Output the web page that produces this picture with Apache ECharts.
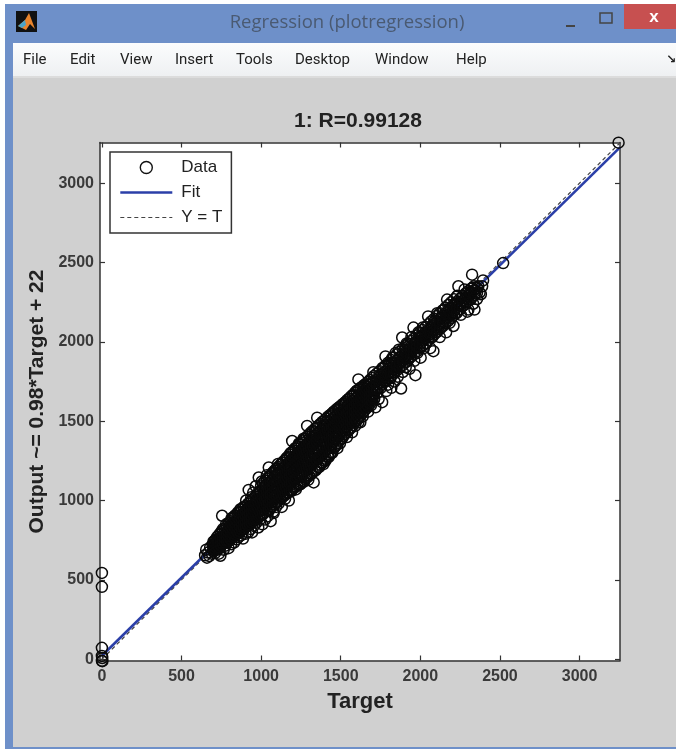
<!DOCTYPE html>
<html><head><meta charset="utf-8">
<style>html,body{margin:0;padding:0;background:#fff}#c{width:676px;height:749px}</style>
<script src="https://cdn.jsdelivr.net/npm/echarts@6/dist/echarts.min.js"></script>
</head><body><div id="c"></div>
<script>
const xTicks = [0,500,1000,1500,2000,2500,3000];
const yTicks = [0,500,1000,1500,2000,2500,3000];
const fitTargets = [0,3254];
const fitOutputs = [22,3225];
const identity = [0,3254];
const menuNames = ['File','Edit','View','Insert','Tools','Desktop','Window','Help'];
const originPoints = [0,544, 0,456, 0,72, 0,21, 0,-10, 3,-12, 2,8];
const tailPoints = [2520,2496, 3245,3255, 2394,2387, 2388,2350, 2325,2423];
const band650 = [648,655,655,690,660,640,668,672,675,650,680,705,690,665,695,720,702,690,708,745,712,670,718,715,725,690,730,760,735,665,742,700,748,790,755,735,760,820,765,690,770,760,775,715,780,850,755,904,744,652,785,735,790,800,
795,700,798,860,803,760,808,820,812,725,816,890,820,780,825,840,830,735,834,905,838,790,842,860,846,755,850,820,854,925,858,770,862,880,866,800,870,945,874,780,878,840,882,905];
const band900 = [886,760,890,960,894,820,898,880,902,790,906,1000,910,850,914,930,918,800,922,1067,926,870,930,960,934,820,938,1020,943,799,946,890,950,1050,954,840,958,970,962,900,966,1090,970,860,974,1010,978,930,982,830,985,1145,988,960,992,880,996,1060,1000,910,1004,1120,1008,850,1012,1000,1016,940,1020,1090,1024,880,1028,1040,1032,970,1036,1160,1040,900,1044,1010,1048,1208,1052,940,1056,1110,1060,870,1064,1060,1068,990,1072,1170,1076,930,1079,921,1082,1080,1086,1010,1090,1190,1094,960,1098,1130,1102,1040,1106,1230,1110,980];
const band1100 = [1114,1100,1118,1020,1122,1200,1126,1070,1130,960,1134,1150,1138,1240,1142,1040,1146,1120,1150,1010,1154,1190,1158,1090,1162,1270,1166,1050,1170,1160,1174,1000,1178,1230,1182,1110,1186,1300,1190,1060,1195,1375,1198,1180,1202,1090,1206,1260,1210,1140,1214,1330,1218,1070,1222,1210,1226,1110,1230,1290,1234,1170,1238,1360,1242,1100,1247,1103,1250,1240,1254,1150,1258,1320,1262,1190,1266,1390,1270,1120,1274,1270,1278,1210,1282,1340,1286,1160,1289,1470,1292,1250,1296,1130,1300,1310,1304,1200,1308,1400,1312,1270,1316,1170,1320,1350,1324,1230,1330,1114,1334,1290,1338,1430,1342,1190,1346,1330,1352,1522];
const band1350 = [1356,1260,1360,1390,1364,1210,1368,1320,1372,1440,1376,1240,1380,1370,1384,1290,1388,1470,1392,1230,1396,1400,1400,1310,1404,1250,1408,1450,1412,1350,1416,1500,1420,1290,1423,1273,1427,1390,1431,1460,1435,1330,1439,1530,1443,1410,1447,1300,1451,1470,1455,1370,1459,1550,1463,1340,1467,1430,1471,1510,1475,1390,1479,1330,1483,1480,1487,1570,1491,1420,1495,1360,1499,1520];
const band1500 = [1503,1450,1507,1390,1511,1550,1515,1480,1519,1600,1523,1420,1527,1520,1531,1620,1535,1460,1539,1400,1543,1570,1547,1500,1551,1640,1555,1450,1559,1540,1563,1600,1567,1490,1571,1430,1575,1580,1579,1660,1583,1520,1587,1620,1591,1470,1595,1570,1600,1690,1605,1510,1611,1763,1611,1493,1616,1620,1620,1560,1623,1493,1628,1660,1633,1590,1638,1530,1643,1710,1648,1620,1655,1587,1660,1680,1665,1610,1672,1560,1678,1730,1684,1650];
const band1700 = [1690,1600,1697,1700,1705,1809,1710,1640,1718,1587,1724,1750,1730,1680,1738,1640,1745,1790,1752,1710,1760,1620,1768,1830,1775,1750,1781,1908,1786,1690,1792,1800,1798,1730,1805,1860,1812,1770,1818,1710,1825,1900,1832,1810,1838,1750,1845,1930,1852,1840,1858,1780,1865,1950,1870,1870,1879,1706,1886,2027,1890,1810,1896,1900,1902,1950,1908,1840,1914,1990,1920,1880,1926,1950,1932,1830];
const band1950 = [1938,1910,1944,2030,1950,1960,1957,2090,1962,1880,1969,1790,1975,2000,1982,1930,1988,2060,1995,1970,2002,1900,2008,2030,2015,2090,2022,1960,2030,2040,2036,1990,2049,2160,2055,2030,2062,1960,2070,2090,2076,2030,2082,1941,2090,2130,2098,2060,2106,2180,2114,2090,2122,2030,2130,2150,2138,2100,2146,2200,2154,2120,2162,2060,2168,2266,2176,2170];
const band2180 = [2184,2120,2192,2210,2200,2160,2208,2100,2216,2240,2224,2180,2232,2290,2239,2350,2246,2230,2254,2170,2262,2280,2270,2230,2278,2330,2286,2250,2295,2190,2302,2203,2310,2310,2318,2270,2326,2340,2332,2240,2340,2203,2348,2320,2356,2270,2364,2350,2372,2310,2380,2300];
// dense rows read from the solid black part of the cloud: target, then outputs
const coreLow = [[700,680,700,722,740],[712,690,708,730,752],[724,700,722,745,770],[736,705,728,750,785],[748,715,738,765,800],[760,725,750,772,810],[772,735,758,785,822],[784,745,770,795,835],[796,745,775,800,825,855],[808,755,785,812,838,870],[820,770,795,822,850,885],[832,775,805,832,862,895],[844,785,815,845,875,905],[856,795,825,855,888,920],[868,805,838,868,898,930],[880,815,845,880,910,945],[892,825,858,890,920,955],[904,835,865,898,932,965],[916,845,878,910,942,978],[928,850,885,920,955,990],[940,860,895,930,965,1000],[952,870,905,940,975,1015],[964,880,918,952,985,1025],[976,885,925,960,1000,1040],[988,900,935,972,1010,1050]];
const coreMid = [[1000,905,945,985,1020,1060,1095],[1012,915,955,995,1030,1070,1110],[1024,925,968,1008,1042,1082,1125],[1036,935,975,1018,1055,1095,1135],[1048,945,988,1030,1068,1108,1150],[1060,955,998,1040,1080,1120,1160],[1072,965,1010,1052,1092,1132,1175],[1084,975,1018,1062,1105,1145,1188],[1096,985,1030,1075,1115,1158,1200],[1108,998,1040,1085,1128,1170,1212],[1120,1010,1052,1098,1140,1182,1225],[1132,1020,1065,1108,1152,1195,1238],[1144,1030,1075,1120,1165,1208,1250],[1156,1040,1085,1132,1178,1220,1262],[1168,1050,1098,1145,1188,1232,1275],[1180,1060,1108,1155,1200,1245,1290],[1192,1068,1120,1168,1212,1258,1302],[1204,1078,1130,1178,1225,1270,1315],[1216,1085,1138,1190,1238,1282,1328],[1228,1095,1148,1200,1250,1295,1340],[1240,1105,1160,1212,1262,1308,1352],[1252,1115,1170,1222,1275,1320,1365],[1264,1125,1180,1235,1285,1332,1378],[1276,1135,1192,1245,1298,1345,1390],[1288,1145,1202,1258,1310,1358,1402],[1300,1155,1212,1268,1322,1370,1415],[1312,1165,1225,1280,1335,1382,1428],[1324,1178,1235,1292,1345,1395,1438],[1336,1188,1245,1302,1358,1405,1450],[1348,1200,1258,1315,1370,1418,1460],[1360,1212,1268,1325,1382,1430,1472],[1372,1225,1280,1338,1392,1440,1482],[1384,1238,1292,1348,1405,1452,1495],[1396,1250,1305,1360,1415,1465,1505],[1408,1262,1318,1372,1428,1475,1515],[1420,1275,1330,1385,1438,1488,1528],[1432,1290,1342,1395,1450,1498,1538],[1444,1305,1355,1408,1460,1510,1548]];
const coreHigh = [[1456,1330,1378,1425,1472,1520,1560],[1468,1345,1390,1438,1485,1530,1570],[1480,1360,1402,1450,1495,1540,1580],[1492,1378,1418,1462,1508,1552,1590],[1504,1392,1432,1475,1518,1562,1600],[1516,1405,1445,1488,1530,1572,1610],[1528,1420,1458,1500,1542,1582,1620],[1540,1432,1470,1512,1552,1595,1632],[1552,1445,1485,1525,1565,1605,1642],[1564,1460,1498,1538,1578,1618,1655],[1576,1475,1510,1550,1590,1628,1665],[1588,1490,1525,1562,1600,1640,1678],[1600,1505,1538,1575,1612,1650,1690],[1612,1520,1552,1588,1625,1662,1700],[1624,1535,1565,1600,1635,1672,1710],[1636,1550,1580,1612,1648,1685,1718],[1648,1565,1592,1625,1660,1695,1728],[1660,1580,1606,1638,1672,1705,1738],[1672,1595,1620,1650,1682,1715,1748],[1684,1610,1635,1662,1695,1728,1760],[1696,1625,1650,1675,1705,1738,1772],[1708,1640,1665,1690,1718,1750,1785]];
const coreTop = [[1726,1700,1730,1762,1800],[1744,1715,1745,1778,1815],[1762,1735,1762,1795,1835],[1780,1750,1780,1812,1850],[1798,1768,1798,1830,1868],[1816,1785,1815,1848,1885],[1834,1800,1832,1865,1902],[1852,1820,1850,1882,1920],[1870,1838,1868,1900,1938],[1888,1852,1885,1918,1955],[1906,1870,1902,1935,1972],[1924,1888,1920,1952,1990],[1942,1905,1938,1970,2005],[1960,1922,1955,1988,2022],[1978,1940,1972,2005,2040],[1996,1958,1990,2022,2058],[2014,1975,2008,2040,2075],[2032,1992,2025,2058,2092],[2050,2010,2042,2075,2110],[2068,2028,2060,2092,2128],[2086,2045,2078,2110,2145],[2104,2062,2095,2128,2162],[2122,2080,2112,2145,2180],[2140,2098,2130,2162,2198],[2158,2115,2148,2180,2215],[2176,2132,2165,2198,2232],[2194,2150,2182,2215,2250],[2212,2168,2200,2232,2268],[2230,2185,2218,2250,2285],[2248,2205,2238,2270],[2266,2225,2258,2288],[2284,2240,2275,2305],[2302,2258,2290,2320],[2320,2278,2310,2335],[2338,2295,2325,2350],[2356,2310,2340]];
const bands = [originPoints,band650,band900,band1100,band1350,band1500,band1700,band1950,band2180,tailPoints];
const rowBlocks = [coreLow,coreMid,coreHigh,coreTop];
const pairs = [];
bands.forEach(b=>{for(let i=0;i<b.length;i+=2)pairs.push([b[i],b[i+1]]);});
rowBlocks.forEach(block=>block.forEach(r=>r.slice(1).forEach(o=>pairs.push([r[0],o]))));
const chart = echarts.init(document.getElementById('c'),null,{renderer:'canvas'});
const txtCol='#3a3a3a';
const g = [];
g.push({type:'rect',z:-10,shape:{x:5,y:4,width:671,height:745},style:{fill:'#6e90c9'}});
g.push({type:'rect',z:-9,shape:{x:13,y:43,width:663,height:704},style:{fill:'#d0d0d0'}});
g.push({type:'rect',z:-8,shape:{x:13,y:43,width:663,height:34},style:{fill:new echarts.graphic.LinearGradient(0,0,0,1,[{offset:0,color:'#fbfcfd'},{offset:1,color:'#eef0f2'}])}});
g.push({type:'rect',z:-8,shape:{x:13,y:76,width:663,height:2},style:{fill:'#dcdcdc'}});
g.push({type:'rect',z:-8,shape:{x:624,y:4,width:52,height:25},style:{fill:'#c75050'}});
g.push({type:'rect',z:-7,shape:{x:16,y:11,width:21,height:21},style:{fill:'#111'}});
g.push({type:'polygon',z:-6,shape:{points:[[18,26],[25,20],[29,13],[35,29],[30,24],[26,30]]},style:{fill:'#e8842c'}});
g.push({type:'polygon',z:-6,shape:{points:[[18,26],[25,20],[26,25],[22,28]]},style:{fill:'#4aa3c8'}});
g.push({type:'text',z:-5,style:{x:347,y:23,text:'Regression (plotregression)',font:'18.5px "Open Sans"',fill:'#4a5a72',align:'center',verticalAlign:'middle'}});
g.push({type:'rect',z:-5,shape:{x:566,y:25,width:9,height:2},style:{fill:'#444'}});
g.push({type:'rect',z:-5,shape:{x:600,y:13,width:12,height:10},style:{fill:'none',stroke:'#444',lineWidth:1.5}});
g.push({type:'text',z:-5,style:{x:654,y:17,text:'x',font:'bold 17px "Liberation Sans"',fill:'#fff',align:'center',verticalAlign:'middle'}});
const menuX=[23,70,120,175,236,295,375,456];
menuNames.forEach((m,i)=>g.push({type:'text',z:-5,style:{x:menuX[i],y:60,text:m,font:'15px Roboto',fill:'#222',verticalAlign:'middle'}}));
g.push({type:'text',z:-5,style:{x:666,y:60,text:'↘',font:'bold 12px "DejaVu Sans"',fill:'#222',verticalAlign:'middle'}});
const labelStyle={color:txtCol,fontFamily:'Liberation Sans',fontSize:16,fontWeight:'bold',formatter:v=>String(v)};
const lineStyle={color:'#333',width:1.5};
const hiddenSymbol={color:'transparent',borderColor:'transparent',borderWidth:0,opacity:0};
chart.setOption({
 animation:false,
 backgroundColor:'#fff',
 graphic:g,
 title:{text:'1: R=0.99128',left:353,top:106,textAlign:'center',textStyle:{fontFamily:'Liberation Sans',fontSize:21,fontWeight:'bold',color:'#222'}},
 grid:{left:100,top:142.5,width:520,height:518,show:true,backgroundColor:'#fff',borderWidth:0},
 legend:{left:110,top:152,orient:'vertical',itemWidth:52,itemHeight:12,itemGap:8,padding:[7,9,7,9],backgroundColor:'#fff',borderColor:'#333',borderWidth:1.5,borderRadius:0,
  textStyle:{fontFamily:'Liberation Sans',fontSize:17,color:'#222',padding:[0,0,0,4]},z:20,selectedMode:false,
  data:[{name:'Data',icon:'circle',itemStyle:{color:'transparent',borderColor:'#111',borderWidth:1.4}},
        {name:'Fit',icon:'inherit',itemStyle:hiddenSymbol,lineStyle:{color:'#2b3fa8',width:2.6,opacity:1}},
        {name:'Y = T',icon:'inherit',itemStyle:hiddenSymbol,lineStyle:{color:'#444',width:1.2,type:[4,3],opacity:1}}]},
 xAxis:[
  {type:'value',min:-12,max:3254,position:'bottom',splitLine:{show:false},axisLine:{onZero:false,lineStyle},
   axisTick:{inside:true,length:5,lineStyle:{color:'#333',width:1.2},customValues:xTicks},
   axisLabel:{...labelStyle,margin:8,customValues:xTicks},
   name:'Target',nameLocation:'middle',nameGap:30,nameTextStyle:{fontFamily:'Liberation Sans',fontSize:22,fontWeight:'bold',color:'#222'}},
  {type:'value',min:-12,max:3254,position:'top',splitLine:{show:false},axisLine:{onZero:false,lineStyle},
   axisTick:{inside:true,length:5,lineStyle:{color:'#333',width:1.2},customValues:xTicks},axisLabel:{show:false}}
 ],
 yAxis:[
  {type:'value',min:-8,max:3256,position:'left',splitLine:{show:false},axisLine:{onZero:false,lineStyle},
   axisTick:{inside:true,length:5,lineStyle:{color:'#333',width:1.2},customValues:yTicks},
   axisLabel:{...labelStyle,margin:6,customValues:yTicks},
   name:'Output ~= 0.98*Target + 22',nameLocation:'middle',nameGap:52,nameTextStyle:{fontFamily:'Liberation Sans',fontSize:21,fontWeight:'bold',color:'#222'}},
  {type:'value',min:-8,max:3256,position:'right',splitLine:{show:false},axisLine:{onZero:false,lineStyle},
   axisTick:{inside:true,length:5,lineStyle:{color:'#333',width:1.2},customValues:yTicks},axisLabel:{show:false}}
 ],
 series:[
  {name:'Y = T',type:'line',symbol:'none',silent:true,z:3,data:identity.map(v=>[v,v]),lineStyle:{color:'#444',width:1.2,type:[4,3]},itemStyle:{color:'#444'}},
  {name:'Fit',type:'line',symbol:'none',silent:true,z:4,data:fitTargets.map((t,i)=>[t,fitOutputs[i]]),lineStyle:{color:'#2b3fa8',width:2.6},itemStyle:{color:'#2b3fa8'}},
  {name:'Data',type:'scatter',symbol:'circle',symbolSize:11,silent:true,z:5,clip:false,data:pairs,itemStyle:{color:'transparent',borderColor:'#0a0a0a',borderWidth:1.5,opacity:1}}
 ]
});
</script></body></html>
